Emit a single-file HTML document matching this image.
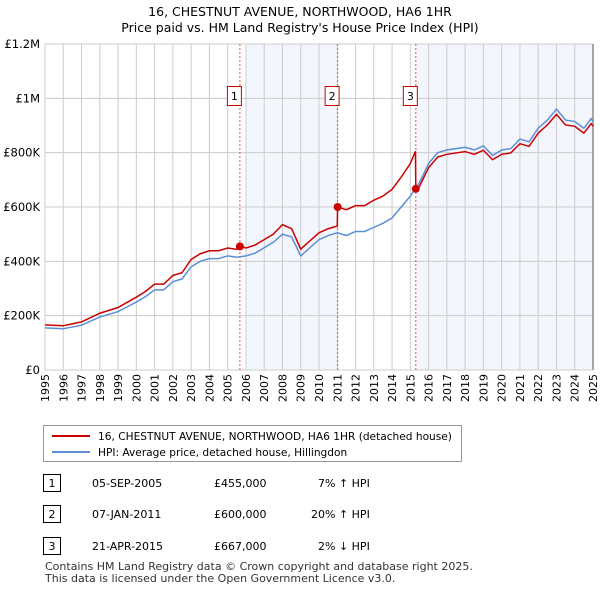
<!DOCTYPE html>
<html><head><meta charset="utf-8"><style>
body{margin:0;width:600px;height:590px;background:#fff;font-family:"DejaVu Sans","Liberation Sans",sans-serif;color:#000;overflow:hidden}
svg{position:absolute;left:0;top:0}
</style></head><body>
<svg id="c" width="600" height="590" font-family="DejaVu Sans, Liberation Sans, sans-serif">
<text x="300" y="16" text-anchor="middle" font-size="12.5">16, CHESTNUT AVENUE, NORTHWOOD, HA6 1HR</text>
<text x="300" y="32" text-anchor="middle" font-size="12.5">Price paid vs. HM Land Registry's House Price Index (HPI)</text>
<g id="plot"></g>
<g>
<rect x="43.5" y="425.5" width="418" height="36" fill="#fff" stroke="#999"/>
<line x1="52" y1="436" x2="90" y2="436" stroke="#cc0000" stroke-width="2"/>
<text x="98" y="440" font-size="10.6">16, CHESTNUT AVENUE, NORTHWOOD, HA6 1HR (detached house)</text>
<line x1="52" y1="452" x2="90" y2="452" stroke="#5b8ed6" stroke-width="2"/>
<text x="98" y="456" font-size="10.6">HPI: Average price, detached house, Hillingdon</text>
</g>
<g font-size="11">
<rect x="43.5" y="474.5" width="17" height="17" fill="#fff" stroke="#000"/><text x="52" y="487" text-anchor="middle">1</text>
<text x="92" y="487">05-SEP-2005</text><text x="214" y="487">£455,000</text><text x="318" y="487">7% ↑ HPI</text>
<rect x="43.5" y="505.5" width="17" height="17" fill="#fff" stroke="#000"/><text x="52" y="518" text-anchor="middle">2</text>
<text x="92" y="518">07-JAN-2011</text><text x="214" y="518">£600,000</text><text x="311" y="518">20% ↑ HPI</text>
<rect x="43.5" y="537.5" width="17" height="17" fill="#fff" stroke="#000"/><text x="52" y="550" text-anchor="middle">3</text>
<text x="92" y="550">21-APR-2015</text><text x="214" y="550">£667,000</text><text x="318" y="550">2% ↓ HPI</text>
</g>
<text x="45" y="570" font-size="11" fill="#333">Contains HM Land Registry data © Crown copyright and database right 2025.</text>
<text x="45" y="582" font-size="11" fill="#333">This data is licensed under the Open Government Licence v3.0.</text>
</svg>
<script>
const hpiT=[1995,1996,1997,1998,1999,2000,2000.5,2001,2001.5,2002,2002.5,2003,2003.5,2004,2004.5,2005,2005.5,2006,2006.5,2007,2007.5,2008,2008.5,2009,2009.5,2010,2010.5,2011,2011.5,2012,2012.5,2013,2013.5,2014,2014.5,2015,2015.5,2016,2016.5,2017,2017.5,2018,2018.5,2019,2019.5,2020,2020.5,2021,2021.5,2022,2022.5,2023,2023.5,2024,2024.5,2024.9,2025];
const hpiV=[155,152,165,195,215,250,270,295,295,325,335,380,400,410,410,420,415,420,430,450,470,500,490,420,450,480,495,505,495,510,510,525,540,560,600,640,690,760,800,810,815,820,810,825,790,810,815,850,840,890,920,960,920,915,890,925,915];
const redT=[1995,1996,1997,1998,1999,2000,2000.5,2001,2001.5,2002,2002.5,2003,2003.5,2004,2004.5,2005,2005.5,2005.67,2006,2006.5,2007,2007.5,2008,2008.5,2009,2009.5,2010,2010.5,2011.0,2011.02,2011.5,2012,2012.5,2013,2013.5,2014,2014.5,2015,2015.28,2015.3,2015.5,2016,2016.5,2017,2017.5,2018,2018.5,2019,2019.5,2020,2020.5,2021,2021.5,2022,2022.5,2023,2023.5,2024,2024.5,2024.9,2025];
const redV=[166,163,177,209,230,268,289,316,316,348,358,407,428,439,439,449,444,455,449,460,480,500,535,520,445,475,505,520,530,600,590,605,605,625,640,665,710,760,805,667,676,745,784,794,799,804,794,809,774,794,799,833,823,872,902,941,902,897,872,907,897];
const saleT=[2005.67,2011.02,2015.3];
const saleV=[455,600,667];
const saleLabels=["1","2","3"];
const yTicks=[0,200,400,600,800,1000,1200];
const yTickLabels=["£0","£200K","£400K","£600K","£800K","£1M","£1.2M"];
const years=[];for(let y=1995;y<=2025;y++)years.push(y);
const L=45,R=593,T=44,B=370;
const X=t=>L+(t-1995)/30*(R-L);
const Y=v=>B-v/1200*(B-T);
const NS="http://www.w3.org/2000/svg";
const g=document.getElementById('plot');
function mk(tag,attrs,parent){const e=document.createElementNS(NS,tag);for(const k in attrs)e.setAttribute(k,attrs[k]);(parent||g).appendChild(e);return e;}
let e;
e=mk('rect',{x:X(2006),y:T,width:X(saleT[1])-X(2006),height:B-T,fill:'#f3f6fd'});


e=mk('rect',{x:X(saleT[2]),y:T,width:R-X(saleT[2]),height:B-T,fill:'#f3f6fd'});


years.forEach(y=>{
 e=mk('line',{x1:X(y),y1:T,x2:X(y),y2:B,stroke:'#ccc','stroke-width':1});
 
 
 e=mk('text',{x:0,y:0,'font-size':11,'text-anchor':'end',transform:`translate(${X(y)+4},374) rotate(-90)`});
 e.textContent=y;
 
 
});
yTicks.forEach((v,i)=>{
 e=mk('line',{x1:L,y1:Y(v),x2:R,y2:Y(v),stroke:'#ccc','stroke-width':1});
 
 
 e=mk('text',{x:40,y:Y(v)+4,'font-size':11.5,'text-anchor':'end'});
 e.textContent=yTickLabels[i];
 
 
});
e=mk('line',{x1:R,y1:T,x2:R,y2:B,stroke:'#888','stroke-width':1.5});


saleT.forEach((t,i)=>{
 e=mk('line',{x1:X(t),y1:T,x2:X(t),y2:B,stroke:'#f05050','stroke-width':1,'stroke-dasharray':'2,2'});
 
 
});
e=mk('polyline',{points:hpiT.map((t,i)=>X(t)+','+Y(hpiV[i])).join(' '),fill:'none',stroke:'#5b8ed6','stroke-width':1.5});


e=mk('polyline',{points:redT.map((t,i)=>X(t)+','+Y(redV[i])).join(' '),fill:'none',stroke:'#cc0000','stroke-width':1.5});


saleT.forEach((t,i)=>{
 e=mk('circle',{cx:X(t),cy:Y(saleV[i]),r:4,fill:'#cc0000'});
 
 
 const bx=X(t)-12;
 e=mk('rect',{x:bx-0.5,y:86.5,width:14,height:19,fill:'#fff',stroke:'#cc0000'});
 
 
 e=mk('text',{x:bx+6.5,y:100,'font-size':11,'text-anchor':'middle'});
 e.textContent=saleLabels[i];
 
 
});
</script>
</body></html>
